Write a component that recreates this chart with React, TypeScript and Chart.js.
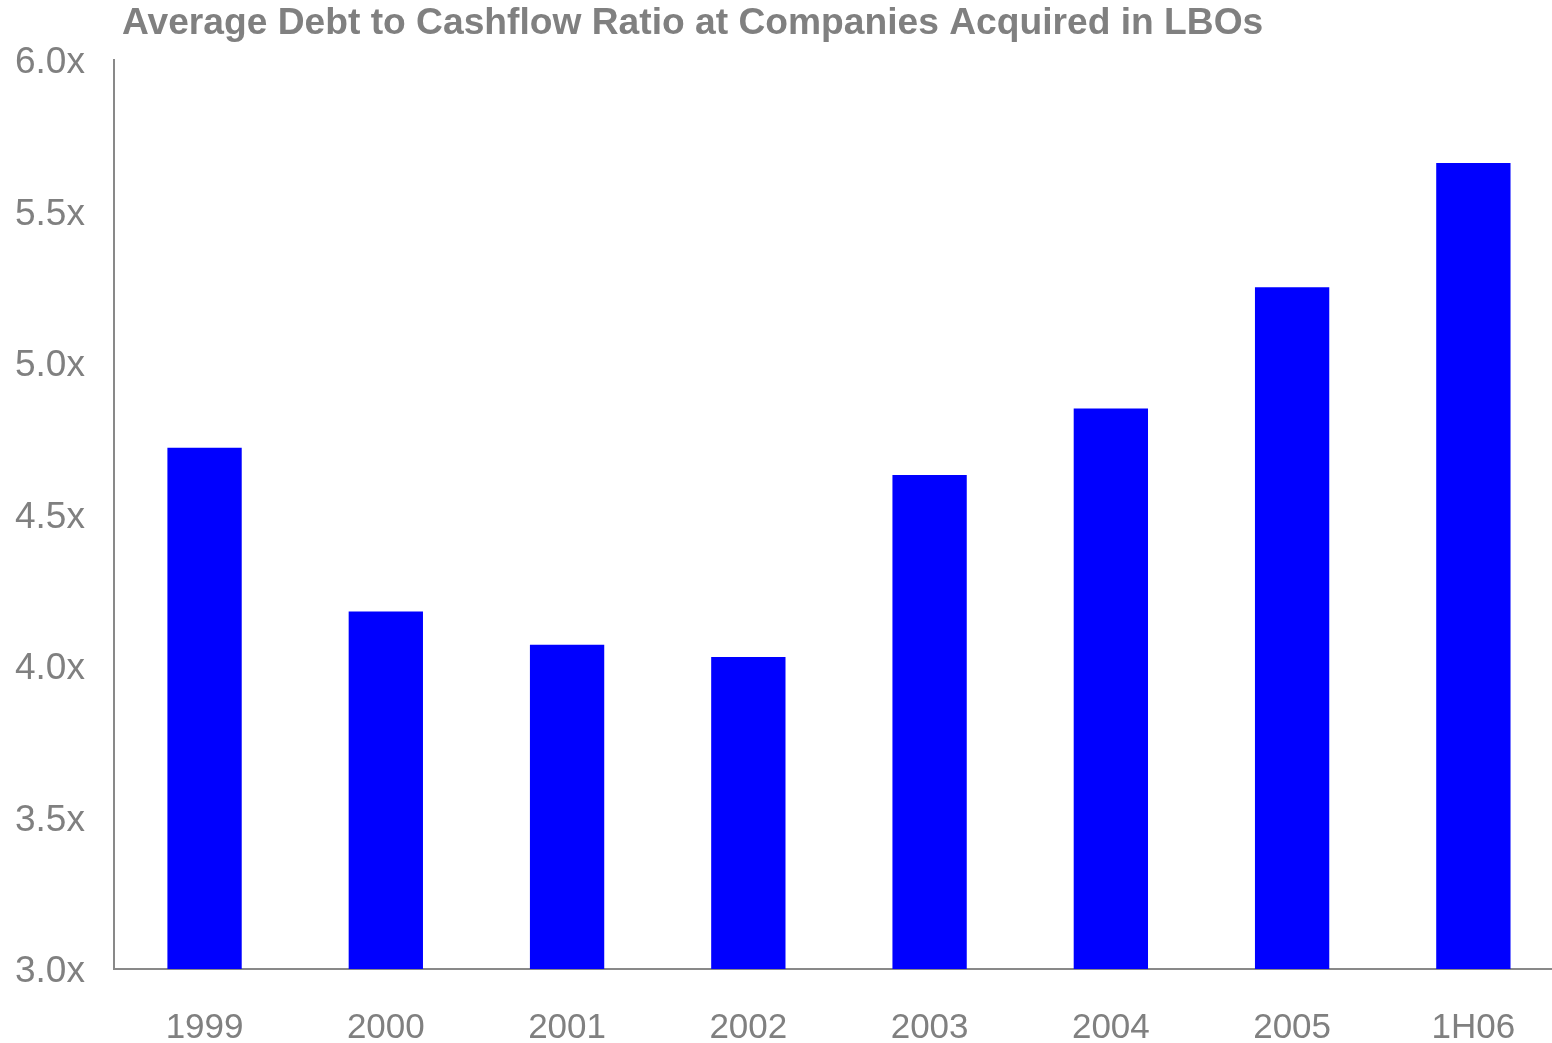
import React, { useEffect, useRef } from "react";
import { Chart, registerables } from "chart.js";

Chart.register(...registerables);

const TITLE = "Average Debt to Cashflow Ratio at Companies Acquired in LBOs";
const categories = ["1999", "2000", "2001", "2002", "2003", "2004", "2005", "1H06"];
const ratios = [4.72, 4.18, 4.07, 4.03, 4.63, 4.85, 5.25, 5.66];
const yMin = 3.0;
const yMax = 6.0;
const yStep = 0.5;

const FONT = "'Liberation Sans', Arial, Helvetica, sans-serif";
const GRAY = "#808080";
const AXIS = "#898989";

const OFFSET_X = -14;
const CANVAS_W = 1564 - OFFSET_X;
const CANVAS_H = 1088;

const titlePlugin = {
  id: "leftTitle",
  afterDraw(chart: any) {
    const ctx = chart.ctx;
    ctx.save();
    ctx.font = `bold 37.2px ${FONT}`;
    ctx.fillStyle = GRAY;
    ctx.textAlign = "left";
    ctx.textBaseline = "alphabetic";
    ctx.fillText(TITLE, 122 - OFFSET_X, 34);
    ctx.restore();
  },
};

export default function App() {
  const ref = useRef<HTMLCanvasElement | null>(null);

  useEffect(() => {
    document.body.style.margin = "0";
    const canvas = ref.current;
    if (!canvas) return;
    const chart = new Chart(canvas, {
      type: "bar",
      data: {
        labels: categories,
        datasets: [
          {
            data: ratios,
            backgroundColor: "#0000FF",
            borderWidth: 0,
            barPercentage: 0.41,
            categoryPercentage: 1,
          },
        ],
      },
      options: {
        animation: false,
        responsive: false,
        devicePixelRatio: 1,
        layout: { padding: { top: 60, left: 0, right: 0, bottom: 0 } },
        plugins: {
          legend: { display: false },
          title: { display: false },
          tooltip: { enabled: false },
        },
        scales: {
          x: {
            z: 1,
            grid: { display: false, drawTicks: false },
            border: { display: true, color: AXIS, width: 2 },
            ticks: {
              color: GRAY,
              font: { family: FONT, size: 35, lineHeight: 1 },
              padding: 42,
              maxRotation: 0,
            },
          },
          y: {
            min: yMin,
            max: yMax,
            z: 1,
            grid: { display: false, drawTicks: false },
            border: { display: true, color: AXIS, width: 2 },
            ticks: {
              stepSize: yStep,
              color: GRAY,
              font: { family: FONT, size: 37, lineHeight: 1 },
              padding: 29,
              labelOffset: 3,
              callback: (v: any) => Number(v).toFixed(1) + "x",
            },
          },
        },
      },
      plugins: [titlePlugin],
    });
    return () => chart.destroy();
  }, []);

  return (
    <div style={{ position: "relative", width: 1552, height: 1043, overflow: "hidden" }}>
      <canvas
        ref={ref}
        width={CANVAS_W}
        height={CANVAS_H}
        style={{ display: "block", position: "absolute", left: OFFSET_X, top: 0 }}
      />
    </div>
  );
}
